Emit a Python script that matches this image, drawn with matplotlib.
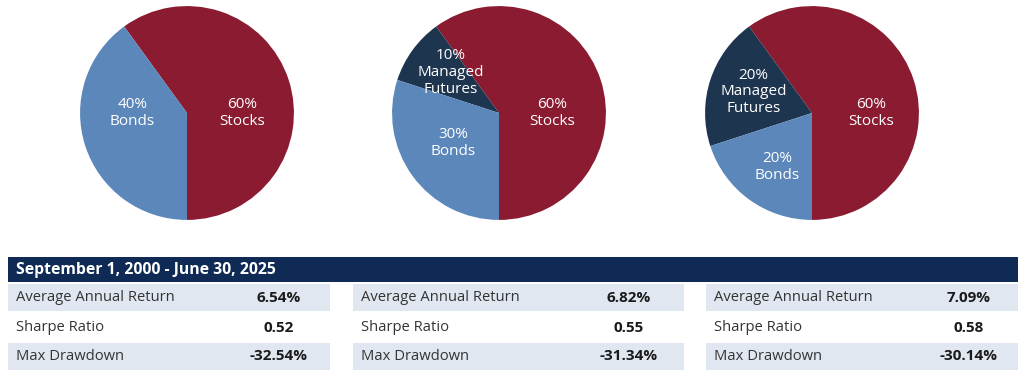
import numpy as np
import matplotlib.pyplot as plt
from matplotlib.patches import Rectangle

plt.rcParams['font.family'] = ['Open Sans', 'DejaVu Sans']

# portfolio mixes, one pie each
labels = [["Stocks", "Bonds"],
          ["Stocks", "Managed\nFutures", "Bonds"],
          ["Stocks", "Managed\nFutures", "Bonds"]]
shares = [[60, 40], [60, 10, 30], [60, 20, 20]]

period = "September 1, 2000 - June 30, 2025"
metrics = ["Average Annual Return", "Sharpe Ratio", "Max Drawdown"]
values = [["6.54%", "0.52", "-32.54%"],
          ["6.82%", "0.55", "-31.34%"],
          ["7.09%", "0.58", "-30.14%"]]

colors = {"Stocks": "#8A1B30", "Bonds": "#5B87BA", "Managed\nFutures": "#1E3550"}
navy = "#0F2A55"
shade = "#E1E7F1"

# where each label sits inside its pie: (angle in degrees, fraction of radius)
label_spots = [[(0, 0.52), (180, 0.51)],
               [(0, 0.50), (140, 0.59), (213, 0.51)],
               [(0, 0.55), (160, 0.58), (237, 0.60)]]

W, H = 1024, 377
fig = plt.figure(figsize=(W / 100, H / 100), dpi=100)

# pies: centre x in pixels, centre y 113, radius 108
pie_cx = [187, 499, 812]
cy = 113
R = 108
for cx, lab, sh, spots in zip(pie_cx, labels, shares, label_spots):
    ax = fig.add_axes([(cx - R) / W, (H - cy - R) / H, 2 * R / W, 2 * R / H])
    wedges, _ = ax.pie(sh, colors=[colors[l] for l in lab], startangle=-90,
                       counterclock=True, radius=1,
                       wedgeprops=dict(linewidth=0))
    for l, s, (a, r) in zip(lab, sh, spots):
        ang = np.deg2rad(a)
        ax.text(r * np.cos(ang), r * np.sin(ang), f"{s}%\n{l}", color="white",
                ha="center", va="center", fontsize=11, linespacing=1.15)
    ax.set_xlim(-1.01, 1.01)
    ax.set_ylim(-1.01, 1.01)
    ax.set_aspect("equal")
    ax.axis("off")

# table drawn in pixel coordinates
tab = fig.add_axes([0, 0, 1, 1])
tab.set_xlim(0, W)
tab.set_ylim(H, 0)
tab.axis("off")

tab.add_patch(Rectangle((8, 257), 1010, 25, color=navy, lw=0))
tab.text(16, 269.5, period, color="white", fontweight="bold", fontsize=11.3,
         ha="left", va="center")

panel_x = [(8, 330), (353, 684), (706, 1018)]
value_cx = [279, 629, 969]
row_top = [284, 314, 343]
row_h = 27
for (x0, x1), vc, vals in zip(panel_x, value_cx, values):
    for i, (m, v) in enumerate(zip(metrics, vals)):
        y0 = row_top[i]
        if i != 1:
            tab.add_patch(Rectangle((x0, y0), x1 - x0, row_h, color=shade, lw=0))
        yc = y0 + row_h / 2
        tab.text(x0 + 8, yc, m, color="#333333", fontsize=10.6, ha="left", va="center")
        tab.text(vc, yc, v, color="#1a1a1a", fontsize=11, fontweight="bold",
                 ha="center", va="center")

fig.savefig("out.png", dpi=100, facecolor="white")
